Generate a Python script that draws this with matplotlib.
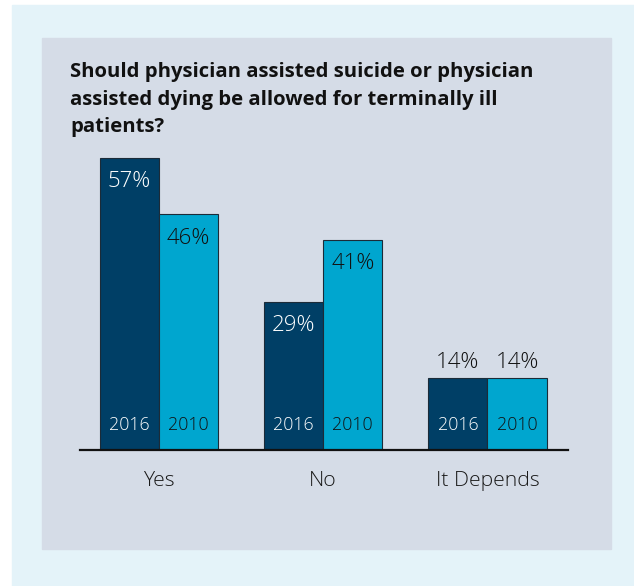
import matplotlib.pyplot as plt
from matplotlib.patches import Rectangle
import numpy as np

# data
categories = ['Yes', 'No', 'It Depends']
years = ['2016', '2010']
values_2016 = [57, 29, 14]
values_2010 = [46, 41, 14]
title_lines = ['Should physician assisted suicide or physician',
               'assisted dying be allowed for terminally ill',
               'patients?']

dark = '#003f66'
cyan = '#00a6cf'
panel = '#d5dce7'
outer = '#e4f3f9'

W, H = 634, 586
plt.rcParams['font.family'] = ['Open Sans', 'DejaVu Sans']

fig = plt.figure(figsize=(W / 100, H / 100), dpi=100)
fig.patch.set_facecolor('white')


def px_rect(x0, y0, x1, y1, color):
    fig.patches.append(Rectangle((x0 / W, 1 - y1 / H), (x1 - x0) / W, (y1 - y0) / H,
                                 transform=fig.transFigure, color=color, zorder=-10))


px_rect(12, 5, W, H, outer)
px_rect(42, 38, 611, 549, panel)

# title, one baseline per line
for line, base in zip(title_lines, [77, 105, 132]):
    fig.text(70 / W, 1 - base / H, line, ha='left', va='baseline',
             fontsize=14.6, fontweight='bold', color='#111111')

base_y, top_y = 450, 450 - 60 * 5.12
ax = fig.add_axes([80 / W, 1 - base_y / H, 488 / W, (base_y - top_y) / H])
ax.set_facecolor('none')

x = np.arange(len(categories))
bw = 0.36
b1 = ax.bar(x - bw / 2, values_2016, bw, color=dark, edgecolor='#1c2b38', linewidth=0.8)
b2 = ax.bar(x + bw / 2, values_2010, bw, color=cyan, edgecolor='#1c2b38', linewidth=0.8)

ax.set_xlim(-0.48, 2.49)
ax.set_ylim(0, 60)
for s in ['top', 'right', 'left']:
    ax.spines[s].set_visible(False)
ax.spines['bottom'].set_linewidth(1.6)
ax.spines['bottom'].set_color('#111111')
ax.set_yticks([])
ax.set_xticks(x)
ax.set_xticklabels(categories, fontsize=15.2, color='#1a1a1a', fontweight='light')
ax.tick_params(axis='x', length=0, pad=15)

for bars, vals, tcol in [(b1, values_2016, 'white'), (b2, values_2010, '#111111')]:
    for rect, v in zip(bars, vals):
        cx = rect.get_x() + rect.get_width() / 2
        if v > 20:
            ax.text(cx, v - 4.6, f'{v}%', ha='center', va='center', fontsize=16,
                    color=tcol, fontweight='light')
        else:
            ax.text(cx, v + 3.0, f'{v}%', ha='center', va='center', fontsize=16,
                    color='#111111', fontweight='light')

for bars, yr, tcol in [(b1, years[0], 'white'), (b2, years[1], '#111111')]:
    for rect in bars:
        cx = rect.get_x() + rect.get_width() / 2
        ax.text(cx, 4.9, yr, ha='center', va='center', fontsize=12.8,
                color=tcol, fontweight='light')

fig.savefig('out.png', dpi=100)
